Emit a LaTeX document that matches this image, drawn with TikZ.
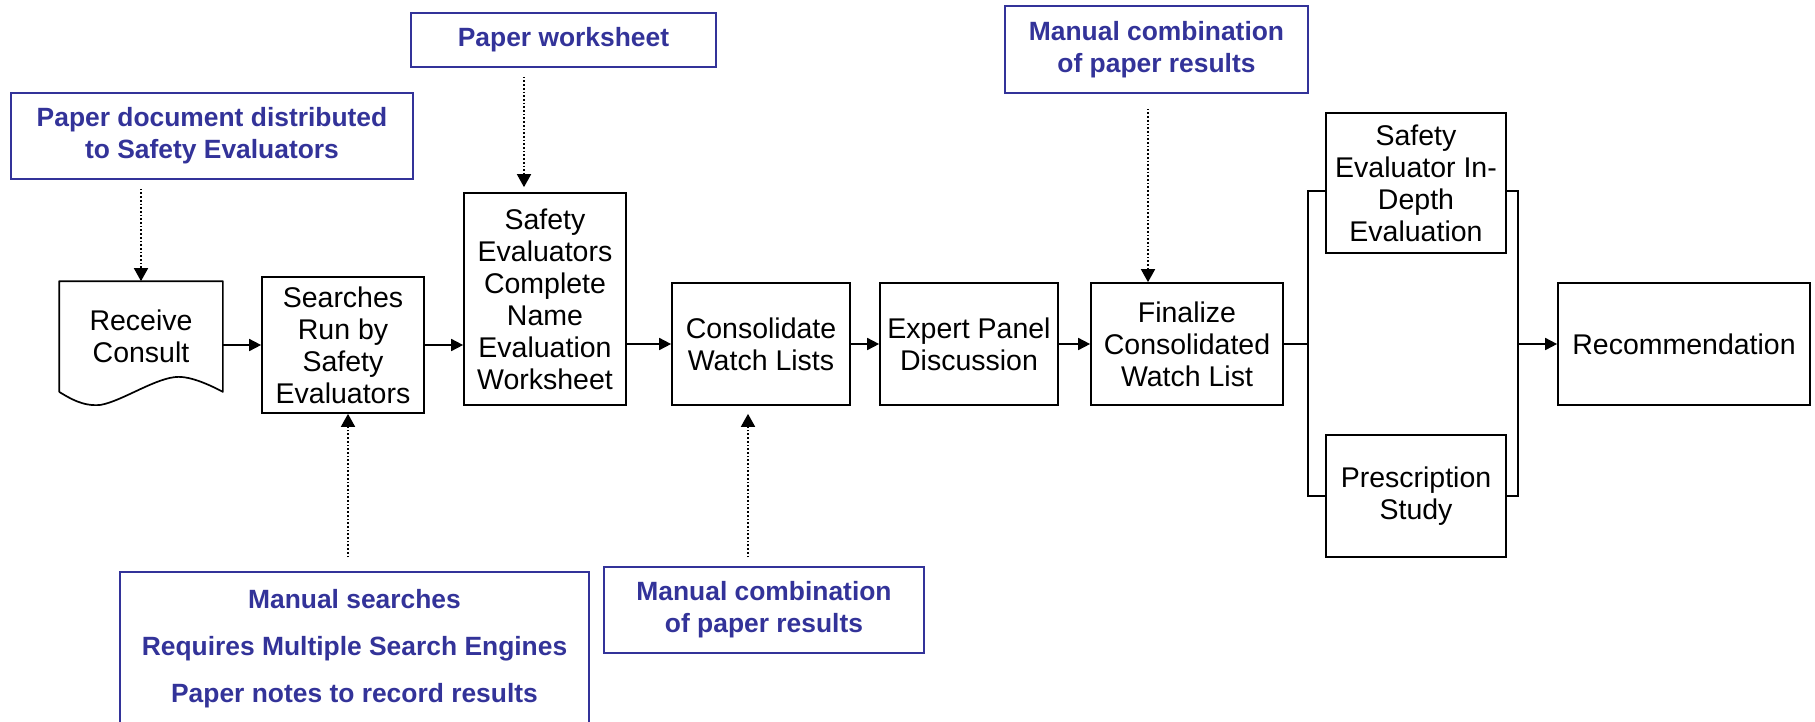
\documentclass[tikz,border=0pt]{standalone}
\usepackage{fontspec}
\setmainfont{Liberation Sans}
\usetikzlibrary{arrows.meta,calc}
\definecolor{noteblue}{RGB}{51,51,153}

\tikzset{
  stage/.style={draw, line width=1.7pt, inner sep=0pt, align=center,
    font=\fontsize{28.5}{32}\selectfont},
  note/.style={draw=noteblue, line width=1.5pt, inner sep=0pt, align=center,
    text=noteblue, font=\fontsize{26.4}{32}\selectfont\bfseries},
  flow/.style={line width=1.7pt, -{Triangle[length=12pt,width=12pt]}},
  hint/.style={line width=1.7pt, dotted, -{Triangle[length=13pt,width=14pt]}},
}

\begin{document}
\begin{tikzpicture}[x=1pt, y=-1pt]
   \clip (0,0) rectangle (1815,721);

   \node [stage, draw=none, minimum width=162, minimum height=109]
      (receive) at (141,336.5) {Receive\\Consult};
   \draw [line width=1.7pt, line join=round] (receive.south west) -- (receive.north west)
      -- (receive.north east) -- (receive.south east)
      .. controls +(-15,-8) and +(12,0) .. ++(-44,-15)
      .. controls +(-22,0) and +(22,-4) .. ++(-78,28)
      .. controls +(-18,2) and +(10,6) .. (receive.south west);

   \foreach \n/\x/\y/\w/\h/\t in {
       searches/343/345/162/136/{Searches\\Run by\\Safety\\Evaluators},
       sec/545/299/162/212/{Safety\\Evaluators\\Complete\\Name\\Evaluation\\Worksheet},
       consolidate/761/344/178/122/{Consolidate\\Watch Lists},
       expert/969/344/178/122/{Expert Panel\\Discussion},
       finalize/1187/344/192/122/{Finalize\\Consolidated\\Watch List},
       sedepth/1416/183/180/140/{Safety\\Evaluator In-\\Depth\\Evaluation},
       prescr/1416/496/180/122/{Prescription\\Study},
       recom/1684/344/252/122/{Recommendation}}
     \node [stage, minimum width=\w, minimum height=\h] (\n) at (\x,\y) {\t};

   \foreach \n/\x/\y/\w/\h/\t in {
       paperdoc/212/136/402/86/{Paper document distributed\\to Safety Evaluators},
       worksheet/563.5/40/305/54/{Paper worksheet},
       combtop/1156.5/49.5/303/87/{Manual combination\\of paper results},
       searchnotes/354.5/649/469/154/{Manual searches\\[15pt]Requires Multiple Search Engines\\[15pt]Paper notes to record results},
       combbot/764/610/320/86/{Manual combination\\of paper results}}
     \node [note, minimum width=\w, minimum height=\h] (\n) at (\x,\y) {\t};

   \coordinate (brl) at (1308,344);
   \coordinate (brr) at (1518,344);

   \draw [flow] (receive.east |- searches.west) -- (searches.west);
   \draw [flow] (searches.east) -- (searches.east -| sec.west);
   \draw [flow] (sec.east |- consolidate.west) -- (consolidate.west);
   \draw [flow] (consolidate) -- (expert);
   \draw [flow] (expert) -- (finalize);
   \draw [line width=1.7pt] (finalize.east) -- (brl);
   \draw [line width=1.7pt] ([yshift=-8pt]sedepth.west) -| (brl) |- (prescr.west);
   \draw [line width=1.7pt] ([yshift=-8pt]sedepth.east) -| (brr) |- (prescr.east);
   \draw [flow] (brr) -- (recom.west);

   \draw [hint] ($(paperdoc.south -| receive.north)+(0,9)$) -- (receive.north);
   \draw [hint] ($(worksheet.south)+(-39.5,9)$) -- ($(sec.north)+(-21,-5)$);
   \draw [hint] ($(combtop.south)+(-8.5,15)$) -- ($(finalize.north)+(-39,0)$);
   \draw [hint] ($(searchnotes.north)+(-6.5,-14)$) -- ($(searches.south)+(5,0)$);
   \draw [hint] ($(combbot.north)+(-16,-9)$) -- ($(consolidate.south)+(-13,8)$);

\end{tikzpicture}
\end{document}
